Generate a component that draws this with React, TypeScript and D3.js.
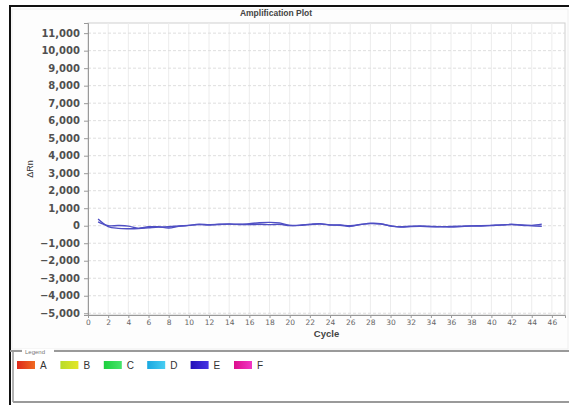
import React, { useRef, useEffect } from "react";
import * as d3 from "d3";

// cycles 1..45
const cycles = d3.range(1, 46);

const wellOne = [
  380, -50, -150, -170, -160, -120, -80, -60, -20, 20, 60, 40, 80, 100, 80, 120,
  170, 190, 160, 20, 30, 60, 100, 50, 40, 0, 60, 140, 120, -20, -60, -30, -20,
  -40, -60, -40, -30, -10, 0, 20, 40, 80, 30, 0, -30,
];

const wellTwo = [
  220, 0, 10, -20, -150, -60, -60, -130, -40, 20, 90, 60, 70, 90, 70, 60, 80,
  60, 80, 10, 20, 80, 120, 40, 30, -40, 80, 120, 100, 0, -80, -50, -40, -60,
  -50, -80, -50, -20, -20, 10, 50, 60, 40, 20, 90,
];

const xTicks = d3.range(0, 47, 2);
const yTicks = d3.range(-5000, 11001, 1000);

const legendNames = ["A", "B", "C", "D", "E", "F"];
const legendColors = [
  ["#dd2a1c", "#f06a22"],
  ["#b8dc2c", "#e4e626"],
  ["#1ccf3e", "#46e46a"],
  ["#1aa8e0", "#48cdf2"],
  ["#2410b8", "#4634e4"],
  ["#dc0e8c", "#f236c4"],
];

const App = () => {
  const svgRef = useRef<SVGSVGElement>(null);

  useEffect(() => {
    const width = 569;
    const height = 405;
    const plot = { left: 88, right: 565, top: 23, bottom: 315 };

    const svg = d3.select(svgRef.current);
    svg.selectAll("*").remove();
    svg.attr("width", width).attr("height", height);

    const font = "'Liberation Sans', Arial, sans-serif";
    const wide = "'DejaVu Sans', sans-serif";

    // frame
    svg.append("rect").attr("width", width).attr("height", height).attr("fill", "#fff");
    svg
      .append("rect")
      .attr("x", 12)
      .attr("y", 9)
      .attr("width", 556)
      .attr("height", 340)
      .attr("fill", "#fdfdfd")
      .attr("stroke", "#eeeeee");
    svg.append("line").attr("x1", 10).attr("x2", width).attr("y1", 6).attr("y2", 6)
      .attr("stroke", "#111").attr("stroke-width", 2);
    svg.append("line").attr("x1", 10).attr("x2", 10).attr("y1", 5).attr("y2", height)
      .attr("stroke", "#111").attr("stroke-width", 2);

    // scales
    const x = d3.scaleLinear().domain([0, 47.3]).range([plot.left, plot.right]);
    const y = d3.scaleLinear().domain([-5100, 11580]).range([plot.bottom, plot.top]);

    svg
      .append("rect")
      .attr("x", plot.left)
      .attr("y", plot.top)
      .attr("width", plot.right - plot.left)
      .attr("height", plot.bottom - plot.top)
      .attr("fill", "#fff")
      .attr("stroke", "#cfcfcf");

    // grid
    svg
      .append("g")
      .selectAll("line")
      .data(xTicks.slice(1))
      .enter()
      .append("line")
      .attr("x1", (d) => x(d))
      .attr("x2", (d) => x(d))
      .attr("y1", plot.top)
      .attr("y2", plot.bottom)
      .attr("stroke", "#ececec");

    svg
      .append("g")
      .selectAll("line")
      .data(yTicks)
      .enter()
      .append("line")
      .attr("x1", plot.left)
      .attr("x2", plot.right)
      .attr("y1", (d) => y(d))
      .attr("y2", (d) => y(d))
      .attr("stroke", "#dedede")
      .attr("stroke-dasharray", "3,2");

    // axes
    const xAxis = svg
      .append("g")
      .attr("transform", `translate(0,${plot.bottom})`)
      .call(d3.axisBottom(x).tickValues(xTicks).tickSize(3).tickPadding(2));
    xAxis.select(".domain").attr("stroke", "#999");
    xAxis.selectAll(".tick line").attr("stroke", "#999");
    xAxis
      .selectAll("text")
      .attr("font-family", wide)
      .attr("font-size", 7.5)
      .attr("fill", "#666");

    const yAxis = svg
      .append("g")
      .attr("transform", `translate(${plot.left},0)`)
      .call(
        d3
          .axisLeft(y)
          .tickValues(yTicks)
          .tickSize(4)
          .tickPadding(4)
          .tickFormat((d) => d3.format(",")(d as number))
      );
    yAxis.select(".domain").attr("stroke", "#999");
    yAxis.selectAll(".tick line").attr("stroke", "#999");
    yAxis
      .selectAll("text")
      .attr("font-family", wide)
      .attr("font-size", 10)
      .attr("font-weight", "bold")
      .attr("fill", "#505050");

    // lines
    const line = d3
      .line<number>()
      .x((_, i) => x(cycles[i]))
      .y((d) => y(d))
      .curve(d3.curveCatmullRom);

    [wellOne, wellTwo].forEach((s) => {
      svg
        .append("path")
        .datum(s)
        .attr("d", line)
        .attr("fill", "none")
        .attr("stroke", "#4f4fc4")
        .attr("stroke-width", 1.4);
    });

    // titles
    svg
      .append("text")
      .attr("x", 276)
      .attr("y", 16)
      .attr("text-anchor", "middle")
      .attr("font-family", font)
      .attr("font-size", 8.5)
      .attr("font-weight", "bold")
      .attr("fill", "#444")
      .text("Amplification Plot");

    svg
      .append("text")
      .attr("x", (plot.left + plot.right) / 2)
      .attr("y", 337)
      .attr("text-anchor", "middle")
      .attr("font-family", font)
      .attr("font-size", 9.5)
      .attr("font-weight", "bold")
      .attr("fill", "#444")
      .text("Cycle");

    svg
      .append("text")
      .attr("transform", `translate(33,${(plot.top + plot.bottom) / 2}) rotate(-90)`)
      .attr("text-anchor", "middle")
      .attr("font-family", font)
      .attr("font-size", 9)
      .attr("fill", "#333")
      .text("ΔRn");

    // legend
    svg.append("line").attr("x1", 10).attr("x2", width).attr("y1", 351).attr("y2", 351)
      .attr("stroke", "#9a9a9a").attr("stroke-width", 2);
    svg.append("line").attr("x1", 13).attr("x2", width).attr("y1", 402).attr("y2", 402)
      .attr("stroke", "#9a9a9a").attr("stroke-width", 2);
    svg.append("line").attr("x1", 13).attr("x2", 13).attr("y1", 352).attr("y2", 402)
      .attr("stroke", "#9a9a9a").attr("stroke-width", 1.5);
    svg
      .append("rect")
      .attr("x", 22)
      .attr("y", 349)
      .attr("width", 32)
      .attr("height", 5)
      .attr("fill", "#fff");
    svg
      .append("text")
      .attr("x", 25)
      .attr("y", 354)
      .attr("font-family", font)
      .attr("font-size", 6)
      .attr("fill", "#777")
      .text("Legend");

    const defs = svg.append("defs");
    legendColors.forEach((c, i) => {
      const g = defs
        .append("linearGradient")
        .attr("id", `lg${i}`)
        .attr("x1", "0%")
        .attr("x2", "100%");
      g.append("stop").attr("offset", "0%").attr("stop-color", c[0]);
      g.append("stop").attr("offset", "100%").attr("stop-color", c[1]);
    });

    const legendX = d3.scalePoint().domain(legendNames).range([17, 234]);
    const items = svg
      .append("g")
      .selectAll("g")
      .data(legendNames)
      .enter()
      .append("g")
      .attr("transform", (d) => `translate(${legendX(d)},361)`);
    items
      .append("rect")
      .attr("width", 18)
      .attr("height", 8)
      .attr("fill", (_, i) => `url(#lg${i})`);
    items
      .append("text")
      .attr("x", 23)
      .attr("y", 8)
      .attr("font-family", font)
      .attr("font-size", 10)
      .attr("fill", "#333")
      .text((d) => d);
  }, []);

  return (
    <svg
      ref={svgRef}
      style={{ position: "absolute", left: 0, top: 0, display: "block" }}
    ></svg>
  );
};

export default App;
